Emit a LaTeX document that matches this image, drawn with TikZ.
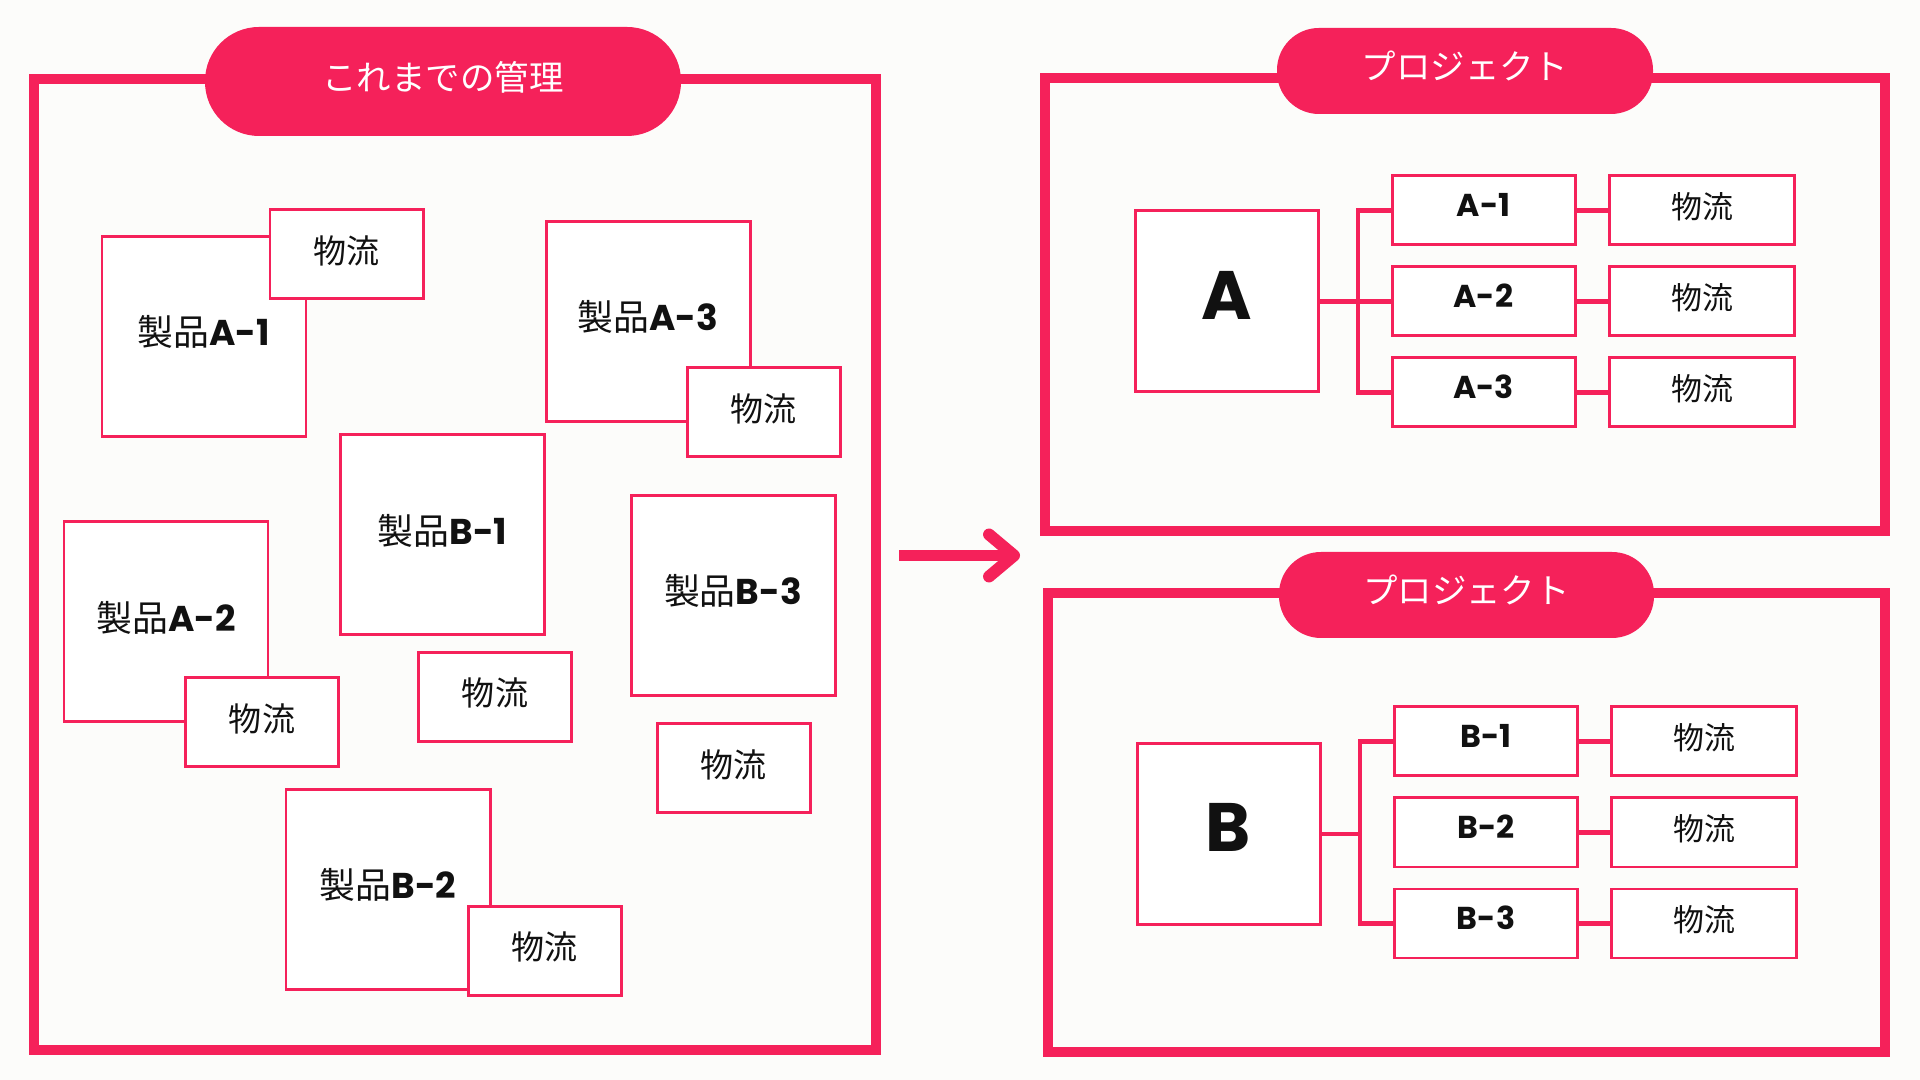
\documentclass[tikz,border=0pt]{standalone}
\usepackage{fontspec}
\setmainfont{Noto Sans CJK JP}
\newfontfamily\jpfont{Noto Sans CJK JP}
\newfontfamily\latfont{Poppins}
\usetikzlibrary{arrows.meta,positioning}
\definecolor{mgpink}{HTML}{F5215A}
\definecolor{mgpaper}{HTML}{FCFCFA}
\definecolor{mgink}{HTML}{111111}
\newcommand{\prodlbl}[1]{{\jpfont 製品}{\latfont\bfseries #1}}
\tikzset{
  bx/.style={draw=mgpink, fill=white, line width=0.85pt, inner sep=0pt, align=center, text=mgink},
  prod/.style={bx, minimum width=2.04cm, minimum height=2cm, font=\fontsize{10.2}{12}\selectfont, text height=6.4pt, text depth=1.2pt},
  logi/.style={bx, minimum width=1.53cm, minimum height=0.89cm, font=\fontsize{9.4}{11}\selectfont\jpfont, text height=6.1pt, text depth=1.2pt},
  proj/.style={bx, minimum width=1.83cm, minimum height=1.81cm, font=\fontsize{19.5}{22}\selectfont\latfont\bfseries, text height=14pt, text depth=3.8pt},
  sub/.style={bx, minimum width=1.83cm, minimum height=0.69cm, font=\fontsize{9}{11}\selectfont\latfont\bfseries, text height=6.5pt, text depth=3pt},
  flw/.style={bx, minimum width=1.85cm, minimum height=0.69cm, font=\fontsize{8.8}{11}\selectfont\jpfont, text height=5.5pt, text depth=1.2pt},
  frame/.style={draw=mgpink, line width=2.85pt, inner sep=0pt},
  pill/.style={fill=mgpink, text=white, inner sep=0pt, font=\fontsize{9.8}{12}\selectfont\jpfont, text height=6.2pt, text depth=1.2pt},
  link/.style={draw=mgpink, line width=1.15pt},
  go/.style={-{Straight Barb[length=2.5mm, width=4.2mm, round]}, draw=mgpink, line width=3.4pt},
}
\begin{document}
\begin{tikzpicture}
    \fill[mgpaper] (0,0) rectangle (19.2,10.8);
    \node[frame, minimum width=8.42cm, minimum height=9.71cm] (old) at (4.55,5.155) {};
    \node[pill, minimum width=4.76cm, minimum height=1.09cm, rounded corners=0.54cm] (oldt) at (4.43,9.985) {これまでの管理};
    \node[prod] (pA1) at (2.04,7.435) {\prodlbl{A-1}};
    \node[prod] (pA3) at (6.48,7.585) {\prodlbl{A-3}};
    \node[prod] (pB1) at (4.425,5.45) {\prodlbl{B-1}};
    \node[prod] (pA2) at (1.66,4.58) {\prodlbl{A-2}};
    \node[prod] (pB3) at (7.33,4.845) {\prodlbl{B-3}};
    \node[prod] (pB2) at (3.88,1.905) {\prodlbl{B-2}};
    \node[logi] (lA1) at (3.465,8.255) {物流};
    \node[logi] (lA3) at (7.635,6.675) {物流};
    \node[logi] (lA2) at (2.62,3.575) {物流};
    \node[logi] (lB1) at (4.95,3.83) {物流};
    \node[logi] (lB3) at (7.335,3.115) {物流};
    \node[logi] (lB2) at (5.445,1.29) {物流};
    \coordinate (gos) at (8.99,5.245);
    \coordinate (goe) at (10.2,5.245);
    \draw[go] (gos) -- (goe);
    \node[frame, minimum width=8.40cm, minimum height=4.53cm] (prjA) at (14.65,7.755) {};
    \node[pill, minimum width=3.76cm, minimum height=0.86cm, rounded corners=0.42cm] (prjAt) at (14.65,10.09) {プロジェクト};
    \node[proj] (A) at (12.265,7.785) {A};
    \node[sub] (A1) at (14.835,8.695) {A-1};
    \node[sub] (A2) at (14.835,7.785) {A-2};
    \node[sub] (A3) at (14.835,6.875) {A-3};
    \node[flw] (fA1) at (17.02,8.695) {物流};
    \node[flw] (fA2) at (17.02,7.785) {物流};
    \node[flw] (fA3) at (17.02,6.875) {物流};
    \coordinate (ja) at (13.58,7.785);
    \draw[link] (A.east) -- (A2.west);
    \draw[link] (A1.west) -| (ja) |- (A3.west);
    \draw[link] (A1.east) -- (fA1.west); \draw[link] (A2.east) -- (fA2.west); \draw[link] (A3.east) -- (fA3.west);
    \node[frame, minimum width=8.37cm, minimum height=4.59cm] (prjB) at (14.665,2.575) {};
    \node[pill, minimum width=3.75cm, minimum height=0.86cm, rounded corners=0.42cm] (prjBt) at (14.665,4.85) {プロジェクト};
    \node[proj] (B) at (12.285,2.46) {B};
    \node[sub] (B1) at (14.86,3.385) {B-1};
    \node[sub] (B2) at (14.86,2.475) {B-2};
    \node[sub] (B3) at (14.86,1.565) {B-3};
    \node[flw] (fB1) at (17.04,3.385) {物流};
    \node[flw] (fB2) at (17.04,2.475) {物流};
    \node[flw] (fB3) at (17.04,1.565) {物流};
    \coordinate (jb) at (13.60,2.46);
    \draw[link] (B.east) -- (jb);
    \draw[link] (B1.west) -| (jb) |- (B3.west);
    \draw[link] (B1.east) -- (fB1.west); \draw[link] (B2.east) -- (fB2.west); \draw[link] (B3.east) -- (fB3.west);
\end{tikzpicture}
\end{document}
